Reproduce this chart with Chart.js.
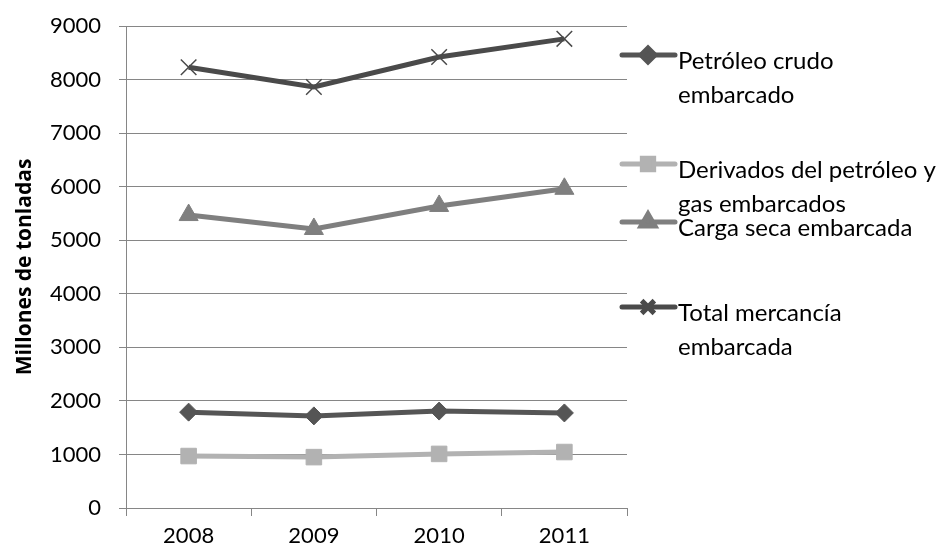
<!DOCTYPE html>
<html>
<head>
<meta charset="utf-8">
<script src="https://cdn.jsdelivr.net/npm/chart.js@4"></script>
<style>
  html, body { margin: 0; padding: 0; background: #fff; }
  #wrap { width: 945px; height: 552px; }
</style>
</head>
<body>
<div id="wrap"><canvas id="chart" width="945" height="552"></canvas></div>
<script>
var years = ['2008', '2009', '2010', '2011'];
var petroleoCrudo = [1790, 1720, 1810, 1775];
var derivados = [970, 950, 1010, 1045];
var cargaSeca = [5470, 5210, 5640, 5960];
var totalMercancia = [8230, 7860, 8420, 8760];
var yTicks = [0, 1000, 2000, 3000, 4000, 5000, 6000, 7000, 8000, 9000];

var FONT = 'Lato, "Open Sans", sans-serif';

// legend on the right, drawn by hand
var sideLegend = {
    id: 'sideLegend',
    afterDraw: function(chart) {
        var ctx = chart.ctx;
        var items = [
            { ds: 0, y: 55, lines: ['Petróleo crudo', 'embarcado'] },
            { ds: 1, y: 164, lines: ['Derivados del petróleo y', 'gas embarcados'] },
            { ds: 2, y: 222, lines: ['Carga seca embarcada'] },
            { ds: 3, y: 307, lines: ['Total mercancía', 'embarcada'] }
        ];
        ctx.save();
        items.forEach(function(it) {
            var d = chart.data.datasets[it.ds];
            ctx.strokeStyle = d.borderColor;
            ctx.lineWidth = 5;
            ctx.lineCap = 'round';
            ctx.beginPath();
            ctx.moveTo(622, it.y);
            ctx.lineTo(675, it.y);
            ctx.stroke();
            ctx.fillStyle = d.borderColor;
            ctx.lineCap = 'butt';
            Chart.helpers.drawPoint(ctx, {
                pointStyle: d.pointStyle,
                radius: d.legendRadius,
                borderWidth: d.pointBorderWidth
            }, 648, it.y);
            ctx.fillStyle = '#000';
            ctx.font = '24px ' + FONT;
            ctx.textBaseline = 'middle';
            ctx.textAlign = 'left';
            it.lines.forEach(function(t, i) {
                ctx.fillText(t, 678, it.y + 6 + i * 34);
            });
        });
        ctx.restore();
    }
};

function styleFor(color, shape, r, legR) {
    return {
        borderColor: color,
        backgroundColor: color,
        pointBackgroundColor: color,
        pointBorderColor: color,
        pointStyle: shape,
        pointRadius: r,
        pointHoverRadius: r,
        legendRadius: legR,
        borderWidth: 5,
        tension: 0,
        fill: false
    };
}

var ctx = document.getElementById('chart').getContext('2d');
var chart = new Chart(ctx, {
    type: 'line',
    data: {
        labels: years,
        datasets: [
            Object.assign({ label: 'Petróleo crudo embarcado', data: petroleoCrudo, pointBorderWidth: 1 },
                styleFor('#555555', 'rectRot', 9, 7)),
            Object.assign({ label: 'Derivados del petróleo y gas embarcados', data: derivados, pointBorderWidth: 1 },
                styleFor('#b2b2b2', 'rect', 11, 8)),
            Object.assign({ label: 'Carga seca embarcada', data: cargaSeca, pointBorderWidth: 1 },
                styleFor('#7f7f7f', 'triangle', 11, 8)),
            Object.assign({ label: 'Total mercancía embarcada', data: totalMercancia, pointBorderWidth: 1.5 },
                styleFor('#4a4a4a', 'crossRot', 11, 9))
        ]
    },
    options: {
        responsive: false,
        animation: false,
        layout: { padding: { top: 26, right: 318, left: 0, bottom: 0 } },
        plugins: {
            legend: { display: false },
            tooltip: { enabled: false }
        },
        scales: {
            x: {
                offset: true,
                afterFit: function(s) {
                    s.height = 44;
                    s.paddingLeft = 0;
                    s.paddingRight = 0;
                },
                grid: {
                    offset: true,
                    drawOnChartArea: false,
                    drawTicks: true,
                    tickLength: 8,
                    color: '#868686'
                },
                border: { color: '#868686', width: 1 },
                ticks: {
                    color: '#000',
                    font: { family: FONT, size: 22 },
                    padding: 7
                }
            },
            y: {
                min: 0,
                max: 9000,
                afterFit: function(s) {
                    s.width = 126;
                    s.paddingTop = 0;
                    s.paddingBottom = 0;
                },
                afterBuildTicks: function(s) {
                    s.ticks = yTicks.map(function(v) { return { value: v }; });
                },
                grid: {
                    color: '#868686',
                    tickLength: 7,
                    lineWidth: 1
                },
                border: { color: '#868686', width: 1 },
                ticks: {
                    color: '#000',
                    font: { family: FONT, size: 22 },
                    padding: 18,
                    callback: function(v) { return String(v); }
                },
                title: {
                    display: true,
                    text: 'Millones de tonladas',
                    color: '#000',
                    font: { family: '"Open Sans", sans-serif', size: 21, weight: 'bold' },
                    padding: { top: 12, bottom: 0 }
                }
            }
        }
    },
    plugins: [sideLegend]
});
</script>
</body>
</html>
